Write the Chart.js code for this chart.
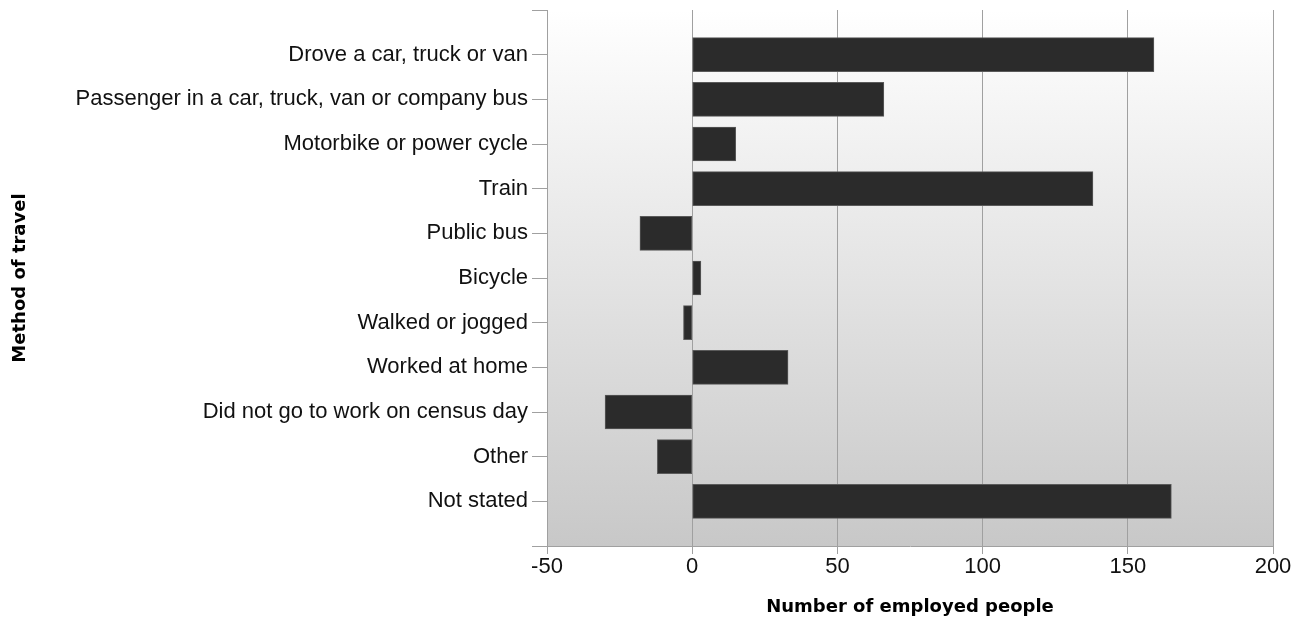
<!DOCTYPE html>
<html>
<head>
<meta charset="utf-8">
<script src="https://cdn.jsdelivr.net/npm/chart.js@4"></script>
<style>
  html, body { margin: 0; padding: 0; background: #fff; }
  #wrap { width: 1308px; height: 622px; }
</style>
</head>
<body>
<div id="wrap"><canvas id="chart" width="1308" height="622"></canvas></div>
<script>
const categories = [
    'Drove a car, truck or van',
    'Passenger in a car, truck, van or company bus',
    'Motorbike or power cycle',
    'Train',
    'Public bus',
    'Bicycle',
    'Walked or jogged',
    'Worked at home',
    'Did not go to work on census day',
    'Other',
    'Not stated'
];
const employed = [159, 66, 15, 138, -18, 3, -3, 33, -30, -12, 165];
const xTicks = [-50, 0, 50, 100, 150, 200];

// blank slots at both ends give the end tick marks and the one-slot gap
const labels = [''].concat(categories, ['']);
const values = [null].concat(employed, [null]);

const plotBackground = {
    id: 'plotBackground',
    beforeDraw(chart) {
        const { ctx, chartArea } = chart;
        const g = ctx.createLinearGradient(0, chartArea.top, 0, chartArea.bottom);
        g.addColorStop(0, '#ffffff');
        g.addColorStop(1, '#c8c8c8');
        ctx.save();
        ctx.fillStyle = g;
        ctx.fillRect(chartArea.left, chartArea.top, chartArea.right - chartArea.left, chartArea.bottom - chartArea.top);
        ctx.restore();
    }
};

Chart.defaults.font.family = '"Liberation Sans", Arial, sans-serif';
Chart.defaults.color = '#111';

const titleFont = { family: '"DejaVu Sans", Verdana, sans-serif', size: 18, weight: 'bold' };

new Chart(document.getElementById('chart').getContext('2d'), {
    type: 'bar',
    data: {
        labels: labels,
        datasets: [{
            data: values,
            backgroundColor: '#2b2b2b',
            borderColor: '#5a5a5a',
            borderWidth: 1,
            borderSkipped: false,
            barThickness: 34
        }]
    },
    options: {
        indexAxis: 'y',
        responsive: false,
        animation: false,
        layout: { padding: { top: 10, right: 35, bottom: 0, left: 10 } },
        plugins: {
            legend: { display: false },
            tooltip: { enabled: false }
        },
        scales: {
            x: {
                type: 'linear',
                min: -50,
                max: 200,
                afterBuildTicks(scale) {
                    scale.ticks = xTicks.map(v => ({ value: v }));
                },
                afterFit(scale) { scale.height = 76; },
                grid: { color: '#a0a0a0', lineWidth: 1, tickLength: 8 },
                border: { color: '#a0a0a0' },
                ticks: { font: { size: 22 }, padding: 0, color: '#111' },
                title: {
                    display: true,
                    text: 'Number of employed people',
                    font: titleFont,
                    color: '#000',
                    padding: { top: 0, bottom: 4 }
                }
            },
            y: {
                offset: false,
                afterFit(scale) {
                    scale.width = 537;
                    scale.paddingTop = 0;
                    scale.paddingBottom = 0;
                },
                grid: { offset: false, drawOnChartArea: false, color: '#a0a0a0', tickLength: 15 },
                border: { color: '#a0a0a0' },
                ticks: { font: { size: 22 }, padding: 4, color: '#111', autoSkip: false },
                title: {
                    display: true,
                    text: 'Method of travel',
                    font: titleFont,
                    color: '#000',
                    padding: { top: 0, bottom: 0 }
                }
            }
        }
    },
    plugins: [plotBackground]
});
</script>
</body>
</html>
